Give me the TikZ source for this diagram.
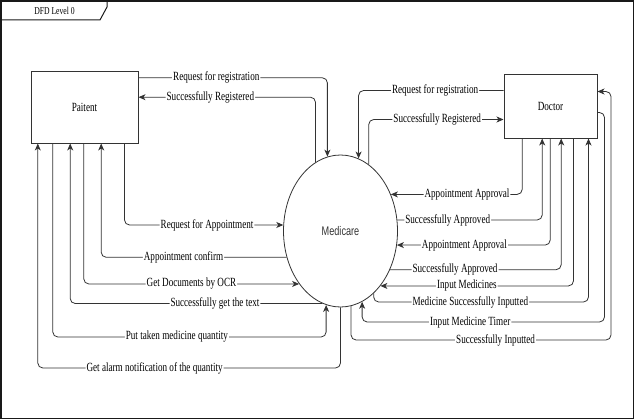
\documentclass[tikz,border=0pt]{standalone}
\usepackage{fontspec}
\setmainfont{Liberation Serif}[FakeStretch=0.73]
\newfontfamily\medfont{Liberation Sans}[FakeStretch=0.73]
\usetikzlibrary{arrows.meta, shapes.geometric, calc}
\definecolor{mainBlack}{gray}{0.1}
\definecolor{lineGray}{gray}{0.2}

\begin{document}
\begin{tikzpicture}[x=1pt, y=-1pt, >={Stealth[length=7pt,width=6pt,inset=2pt]},
    box/.style={draw, lineGray, line width=1pt, fill=white, text=black, font=\fontsize{12.5}{14}\selectfont},
    flow/.style={lineGray, line width=0.8pt, rounded corners=5pt},
    lbl/.style={fill=white, inner sep=1pt, text=black, font=\fontsize{12.5}{14}\selectfont}]
    \useasboundingbox (0,0) rectangle (635,420);
    \draw[line width=1.3pt, mainBlack] (1,1) rectangle (633.5,418.5);
    \draw[line width=1pt, mainBlack] (1,20) -- (100,20) -- (107,7) -- (107,1);
    \node[font=\fontsize{10.5}{12}\selectfont] (title) at (54.5,10.5) {DFD Level 0};

    \node[box, minimum width=107, minimum height=71] (pat) at (84.5,107.5) {Paitent};
    \node[box, minimum width=93, minimum height=63] (doc) at (550.5,106.5) {Doctor};
    \node[box, ellipse, line width=0.8pt, inner sep=0, minimum width=114, minimum height=152,
        text=black!80, font=\medfont\fontsize{12.5}{14}\selectfont] (med) at (340.5,231) {Medicare};

    \coordinate (p1) at ([xshift=7.3]pat.south west);
    \coordinate (p2) at ([xshift=22.3]pat.south west);
    \coordinate (p3) at ([xshift=39.7]pat.south west);
    \coordinate (p4) at ([xshift=53.3]pat.south west);
    \coordinate (p5) at ([xshift=70.7]pat.south west);
    \coordinate (p6) at ([xshift=94]pat.south west);

    \coordinate (d1) at ([xshift=18.7]doc.south west);
    \coordinate (d2) at ([xshift=38.7]doc.south west);
    \coordinate (d3) at ([xshift=46.7]doc.south west);
    \coordinate (d4) at ([xshift=57.7]doc.south west);
    \coordinate (d5) at ([xshift=70]doc.south west);
    \coordinate (d6) at ([xshift=85]doc.south west);

    \draw[flow,->] ([yshift=-6.3]pat.north east) -| node[lbl,pos=0.206] {Request for registration} (med.100);
    \draw[flow,->] (med.110) |- node[lbl,pos=0.797] {Successfully Registered} ([yshift=-25.7]pat.north east);
    \draw[flow,->] ([yshift=-16]doc.north west) -| node[lbl,pos=0.236] {Request for registration} (med.76);
    \draw[flow,->] (med.67) |- node[lbl,pos=0.754] {Successfully Registered} ([yshift=-45]doc.north west);

    \draw[flow,->] (p6) |- node[lbl,pos=0.76] {Request for Appointment} (med.174);
    \draw[flow,->] (med.206) -| node[lbl,pos=0.278] {Appointment confirm} (p5);
    \draw[flow,->] (p4) |- node[lbl,pos=0.75] {Get Documents by OCR} (med.232);
    \draw[flow,->] (med.256) -| node[lbl,pos=0.213] {Successfully get the text} (p3);
    \draw[flow,->] (p2) |- node[lbl,pos=0.727] {Put taken medicine quantity} (med.259 |- 0,337) -- (med.259);
    \draw[flow,->] (med.270) |- node[lbl,pos=0.807] {Get alarm notification of the quantity} (p1 |- 0,368) -- (p1);

    \draw[flow,->] (d1) |- node[lbl,pos=0.71] {Appointment Approval} (med.36);
    \draw[flow,->] (med.11) -| node[lbl,pos=0.174] {Successfully Approved} (d2);
    \draw[flow,->] (d3) |- node[lbl,pos=0.78] {Appointment Approval} (med.346);
    \draw[flow,->] (med.322) -| node[lbl,pos=0.19] {Successfully Approved} (d4);
    \draw[flow,->] (d5) |- node[lbl,pos=0.776] {Input Medicines} (med.306);
    \draw[flow,->] (med.298) |- node[lbl,pos=0.725] {Medicine Successfully Inputted} (d6 |- 0,302) -- (d6);
    \draw[flow,->] ([yshift=-38]doc.north east) -- ++(7,0) |- node[lbl,pos=0.777] {Input Medicine Timer} (med.287 |- 0,322) -- (med.287);
    \draw[flow,->] (med.278) |- node[lbl,pos=0.778] {Successfully Inputted} (611,340) |- ([yshift=-17]doc.north east);
\end{tikzpicture}
\end{document}
